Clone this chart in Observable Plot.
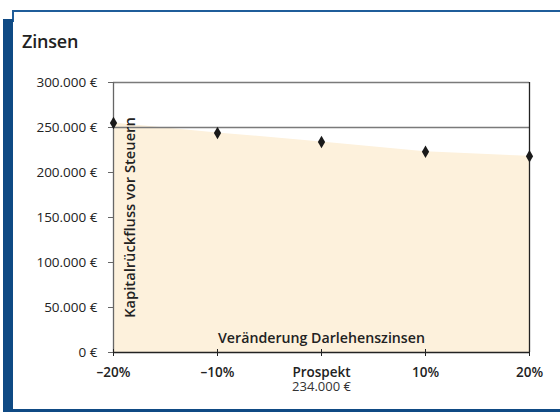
<!DOCTYPE html>
<html>
<head>
<meta charset="utf-8">
<script src="https://cdn.jsdelivr.net/npm/d3@7"></script>
<script src="https://cdn.jsdelivr.net/npm/@observablehq/plot@0.6"></script>
<style>
  html, body { margin: 0; padding: 0; background: #fff; }
  #wrap { position: relative; width: 560px; height: 412px; overflow: hidden; background: #fff; font-family: "Open Sans", sans-serif; }
  .topline { position: absolute; left: 12px; top: 10px; width: 548px; height: 2px; background: #1f5d9a; }
  .thinleft { position: absolute; left: 12px; top: 10px; width: 2px; height: 12px; background: #1f5d9a; }
  .leftbar { position: absolute; left: 3px; top: 19px; width: 10px; height: 393px; background: #0f4a84; }
  .bottombar { position: absolute; left: 3px; top: 409px; width: 557px; height: 3px; background: #0f4a84; }
  #title { position: absolute; left: 22px; top: 32px; font-size: 18px; line-height: 18px; font-weight: 600; color: #222; letter-spacing: -0.2px; }
  #chart { position: absolute; left: 0; top: 56px; }
</style>
</head>
<body>
<div id="wrap">
  <div class="topline"></div>
  <div class="thinleft"></div>
  <div class="leftbar"></div>
  <div class="bottombar"></div>
  <div id="title">Zinsen</div>
  <div id="chart"></div>
</div>
<script>
// ---- data ----
const categories = ["-20%", "-10%", "Prospekt", "10%", "20%"];
const xTickLabels = ["–20%", "–10%", "Prospekt", "10%", "20%"];
const values = [255000, 244000, 234000, 223000, 218000];
const yTicks = [0, 50000, 100000, 150000, 200000, 250000, 300000];
const referenceLine = [250000];
const topLine = [300000];
const prospektValueLabel = ["234.000 €"];
const yLabel = ["Kapitalrückfluss vor Steuern"];
const xLabel = ["Veränderung Darlehenszinsen"];

const data = categories.map((c, i) => ({cat: c, v: values[i]}));
const fmtEuro = d => d3.format(",")(d).replace(/,/g, ".") + " €";
const labelOf = c => xTickLabels[categories.indexOf(c)];

const chart = Plot.plot({
  width: 560,
  height: 344,
  marginLeft: 113,
  marginRight: 31,
  marginTop: 26,
  marginBottom: 48,
  style: { fontFamily: "Open Sans, sans-serif", background: "transparent", color: "#222" },
  x: { type: "point", domain: categories, padding: 0 },
  y: { domain: [0, 300000] },
  marks: [
    Plot.areaY(data, { x: "cat", y: "v", fill: "#fdf1dc", curve: "linear" }),
    Plot.ruleY(referenceLine, { stroke: "#7a7a7a", strokeWidth: 1.5 }),
    Plot.ruleY(topLine, { stroke: "#7a7a7a", strokeWidth: 1.5 }),
    Plot.ruleX([categories[categories.length - 1]], { stroke: "#222", strokeWidth: 1.3 }),
    Plot.ruleX([categories[0]], { stroke: "#666", strokeWidth: 1.3 }),
    Plot.ruleY([0], { stroke: "#222", strokeWidth: 1.3 }),
    Plot.axisY({
      ticks: yTicks, tickSize: 5, tickPadding: 11, tickFormat: fmtEuro,
      fontSize: 13.5, stroke: "#666", label: null
    }),
    Plot.axisX({
      ticks: categories, tickSize: 7, dy: -3, tickFormat: () => "", label: null
    }),
    Plot.axisX({
      ticks: categories, tickSize: 0, tickPadding: 15, tickFormat: labelOf,
      fontSize: 13.5, fontWeight: 600, label: null
    }),
    Plot.text(prospektValueLabel, {
      x: () => "Prospekt", y: () => 0, text: d => d, dy: 29.5, lineAnchor: "top",
      fontSize: 13, fill: "#333"
    }),
    Plot.text(yLabel, {
      frameAnchor: "left", textAnchor: "middle", text: d => d, rotate: -90, dx: 17,
      fontSize: 14.7, fontWeight: 600, fill: "#222"
    }),
    Plot.text(xLabel, {
      x: () => "Prospekt", y: () => 0, text: d => d, dy: -14, lineAnchor: "middle",
      fontSize: 14.2, fontWeight: 600, fill: "#222"
    }),
    Plot.dot(data, { x: "cat", y: "v", symbol: "diamond", r: 3.8, fill: "#1a1a1a", stroke: null })
  ]
});
document.getElementById("chart").appendChild(chart);
</script>
</body>
</html>
